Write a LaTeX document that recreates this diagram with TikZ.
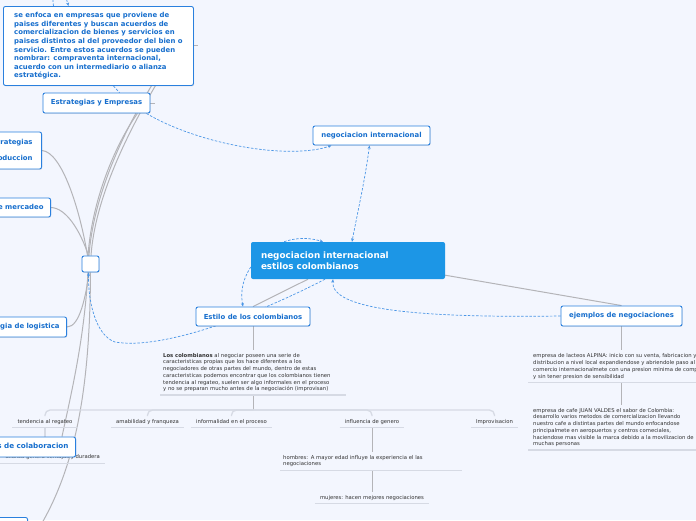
\documentclass[tikz,border=0pt]{standalone}
\usepackage{fontspec}
\setmainfont{DejaVu Sans}
\usetikzlibrary{arrows.meta,shadows}
\definecolor{bgcol}{RGB}{243,246,254}
\definecolor{maincol}{RGB}{28,150,230}
\definecolor{boxline}{RGB}{42,128,222}
\definecolor{boxtext}{RGB}{22,110,205}
\definecolor{linkcol}{RGB}{75,150,230}
\definecolor{branchcol}{RGB}{180,180,184}
\definecolor{ulcol}{RGB}{214,218,228}
\definecolor{notecol}{RGB}{50,50,50}
\pgfdeclarelayer{bg}
\pgfsetlayers{bg,main}
\newcommand\notefont{\fontsize{5.3}{6.7}\selectfont}
\newcommand\topicfont{\bfseries\fontsize{6.9}{8.6}\selectfont}
\tikzset{
  topic/.style={draw=boxline, fill=white, line width=0.9pt, rounded corners=2pt, text=boxtext, font=\topicfont, inner xsep=7pt, inner ysep=2pt, drop shadow={opacity=0.18, shadow xshift=0.6pt, shadow yshift=-0.9pt}},
  central/.style={fill=maincol, rounded corners=2pt, text=white, font=\bfseries\fontsize{8.8}{11}\selectfont, align=left, text width=174pt, inner xsep=10pt, minimum height=37pt},
  note/.style={text=notecol, font=\notefont, align=left, inner xsep=3pt, inner ysep=3pt},
  leaf/.style={text=notecol, font=\notefont, inner xsep=5pt, inner ysep=3pt},
  branch/.style={draw=branchcol, line width=1pt},
  forkline/.style={draw=ulcol, line width=1.3pt, rounded corners=5pt},
  uline/.style={draw=ulcol, line width=1.3pt},
  dlink/.style={draw=linkcol, line width=0.7pt, dash pattern=on 2.5pt off 1.6pt, >={Stealth[length=3.5pt,width=3pt]}},
}
\begin{document}
\begin{tikzpicture}[x=1pt,y=-1pt]
\useasboundingbox (0,0) rectangle (696,520);
\node[central] (main) at (348,260.5) {negociacion internacional\\estilos colombianos};
\node[topic, align=left, minimum width=190pt, minimum height=79pt, anchor=north west, inner xsep=6pt] (enfoque) at (3,6)
  {se enfoca en empresas que proviene de\\paises diferentes y  buscan acuerdos de\\comercializacion de bienes y servicios en\\paises distintos al del proveedor del bien o\\servicio. Entre estos acuerdos se pueden\\nombrar: compraventa internacional,\\acuerdo con un intermediario o alianza\\estratégica.};
\node[topic, minimum width=107pt, minimum height=20pt] (estrat) at (96.5,103) {Estrategias y Empresas};
\node[topic, minimum width=117pt, minimum height=19pt] (negint) at (371.5,135.5) {negociacion internacional};
\node[topic, minimum width=114pt, minimum height=19pt] (estilo) at (253,316.5) {Estilo de los colombianos};
\node[topic, minimum width=121pt, minimum height=20pt] (ejemplos) at (621.5,316) {ejemplos de negociaciones};
\node[topic, minimum width=17pt, minimum height=16pt, inner sep=0pt] (hub) at (90.5,264) {};
\node[topic, anchor=east, align=right, inner xsep=9pt, minimum height=37pt] (prod) at (42,150.5) {Estrategias\\[7pt]de produccion};
\node[topic, anchor=east, minimum height=19pt] (merc) at (51,207.5) {Estrategias de mercadeo};
\node[topic, anchor=east, minimum height=20pt] (logis) at (67,327) {Estrategia de logistica};
\node[leaf, anchor=east] (alianza) at (105,457.5) {alianza genera ventajas y duradera};
\node[topic, anchor=east, minimum height=20pt, font=\bfseries\fontsize{7.2}{9}\selectfont] (colab) at (76,447) {Estrategias de colaboracion};
\node[topic, anchor=north east, minimum width=60pt, minimum height=20pt] (lowbox) at (28,517) {};

\node[note, anchor=north west, text width=180pt] (estilotxt) at (160,350)
  {\textbf{Los colombianos} al negociar poseen una serie de\\caracteristicas propias que los hace diferentes a los\\negociadores de otras partes del mundo, dentro de estas\\caracteristicas podemos encontrar que los colombianos tienen\\tendencia al regateo, suelen ser algo informales en el proceso\\y no se preparan mucho antes de la negociación (improvisan)};
\node[note, anchor=north west, inner xsep=5pt, font=\fontsize{5.3}{7}\selectfont] (alpina) at (528,350)
  {empresa de lacteos ALPINA: inicio con su venta, fabricacion y\\distribucion a nivel local expandiendose y abriendole paso al\\comercio internacionalmete con una presion minima de competencia\\y sin tener presion de sensibilidad};
\node[note, anchor=north west, inner xsep=5pt] (valdes) at (528,405)
  {empresa de cafe JUAN VALDES el sabor de Colombia:\\desarrollo varios metodos de comercializacion llevando\\nuestro cafe a distintas partes del mundo enfocandose\\principalmete en aeropuertos y centros comeciales,\\haciendose mas visible la marca debido a la movilizacion de\\muchas personas};
\node[leaf] (regateo) at (45,422) {tendencia al regateo};
\node[leaf] (amab) at (147.5,422) {amabilidad y franqueza};
\node[leaf] (informal) at (231.5,422) {informalidad en el proceso};
\node[leaf] (genero) at (372,422) {influencia de genero};
\node[leaf] (improv) at (494.5,422) {Improvisacion};
\node[note, anchor=north west, text width=176pt] (hombres) at (280,452)
  {hombres: A mayor edad influye la experiencia el las\\negociaciones};
\node[leaf] (mujeres) at (372,498) {mujeres: hacen mejores negociaciones};

\begin{pgfonlayer}{bg}
\fill[bgcol] (0,0) rectangle (696,520);
% branches
\draw[branch] ([xshift=-1.5pt]hub.north) .. controls (93,200) and (120,135) .. (160,72);
\draw[branch] ([xshift=0.5pt]hub.north) .. controls (95,200) and (125,135) .. (166,68);
\draw[branch] ([xshift=-2.5pt]hub.north) .. controls (92,200) and (115,145) .. ([xshift=-13pt]estrat.south east);
\draw[branch] (prod.east) .. controls (62,152) and (80,210) .. ([xshift=-3pt]hub.north);
\draw[branch] (merc.east) .. controls (66,208) and (80,230) .. ([xshift=-2pt]hub.north);
\draw[branch] (logis.east) .. controls (80,327) and (86,295) .. ([xshift=-1.5pt]hub.south);
\draw[branch] ([xshift=-2.5pt]hub.south) .. controls (84,340) and (72,390) .. ([xshift=-14pt]colab.north east);
\draw[branch] (hub.south) .. controls (90,380) and (78,460) .. ([shift={(14pt,-6pt)}]lowbox.north east);
\draw[branch] (estrat.east) -- ++(5,0);
\draw[branch] (enfoque.east) -- ++(4,0);
\draw[branch] ([xshift=-40pt]main.south) -- (estilo.north);
\draw[branch] ([yshift=4pt]main.south east) -- (ejemplos.north);
\draw[branch] (estilo.south) -- (estilo.south |- estilotxt.north);
\path (estilo.south |- estilotxt.south) ++(0,15) coordinate (fork);
\draw[branch] (estilo.south |- estilotxt.south) -- (fork);
\foreach \n in {regateo,amab,informal,genero,improv}
  \draw[forkline] (fork) -| (\n.north);
\draw[forkline] (regateo.south) -- (regateo.south |- colab.north);
\draw[branch] (genero.south) -- (genero.south |- hombres.north);
\draw[branch] (genero.south |- hombres.south) -- (mujeres.north);
\draw[branch] (ejemplos.south) -- (ejemplos.south |- alpina.north);
\draw[branch] (ejemplos.south |- alpina.south) -- (ejemplos.south |- valdes.north);
\foreach \n in {estilotxt,alpina,valdes,regateo,amab,informal,genero,improv,hombres,mujeres,alianza}
  \draw[uline] (\n.south west) -- (\n.south east);
% links
\draw[dlink,<->] ([xshift=-2pt]negint.south) .. controls (365,180) and (358,210) .. ([xshift=4pt]main.north);
\draw[dlink,->] ([xshift=-4pt]estrat.south east) .. controls (200,145) and (290,160) .. ([xshift=-40pt]negint.south);
\draw[dlink,<->] ([xshift=-10pt]estilo.north) .. controls (235,265) and (280,228) .. ([xshift=-25pt]main.north);
\draw[dlink,->] ([xshift=-23pt]main.south) .. controls (250,318) and (160,350) .. (115,342) .. controls (95,335) and (88,300) .. ([xshift=-2pt]hub.south);
\draw[dlink,->] (ejemplos.west) .. controls (420,318) and (330,310) .. ([xshift=-15pt]main.south);
\draw[dlink] ([xshift=15pt]enfoque.south) -- ([xshift=23pt]estrat.north);
\draw[dlink,->] ([xshift=-45pt]enfoque.north) .. controls (50,-20) and (62,-18) .. ([xshift=-30pt]enfoque.north);
\end{pgfonlayer}
\end{tikzpicture}
\end{document}
